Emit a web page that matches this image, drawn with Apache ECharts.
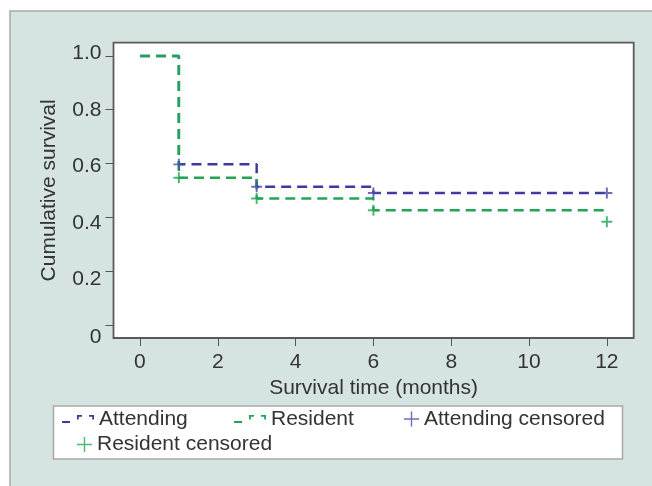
<!DOCTYPE html>
<html>
<head>
<meta charset="utf-8">
<script src="https://cdn.jsdelivr.net/npm/echarts@6/dist/echarts.min.js"></script>
<style>
  html, body { margin: 0; padding: 0; background: #ffffff; }
  #chart { width: 652px; height: 486px; }
</style>
</head>
<body>
<div id="chart"></div>
<script>
// ---- data ----
const timeTicks = [0, 2, 4, 6, 8, 10, 12];
const survivalTicks = [0, 0.2, 0.4, 0.6, 0.8, 1.0];
const survivalTickLabels = ['0', '0.2', '0.4', '0.6', '0.8', '1.0'];

const attendingTimes = [0, 1, 3, 6, 12];
const attendingSurvival = [1.0, 0.597, 0.514, 0.491, 0.491];
const residentTimes = [0, 1, 3, 6, 12];
const residentSurvival = [1.0, 0.547, 0.470, 0.427, 0.427];

const attendingCensoredTimes = [1, 3, 6, 12];
const attendingCensoredSurvival = [0.597, 0.514, 0.491, 0.491];
const residentCensoredTimes = [1, 3, 6, 12];
const residentCensoredSurvival = [0.547, 0.470, 0.427, 0.384];

const seriesNames = ['Attending', 'Resident', 'Attending censored', 'Resident censored'];
const xAxisTitle = 'Survival time (months)';
const yAxisTitle = 'Cumulative survival';

// ---- styling ----
const FONT = 'Liberation Sans, Arial, sans-serif';
const TXT = '#333333';
const BLUE = '#3c3c9e';
const GREEN = '#1fa653';
const BLUE_PLUS = '#4848ac';

const pairs = (xs, ys) => xs.map((x, i) => [x, ys[i]]);

const plusSymbol = 'path://M0,4.1h10v1.8h-10z M4.1,0h1.8v10h-1.8z';
const plusIcon = 'path://M0,6.8h15v1.4h-15z M6.8,0h1.4v15h-1.4z';
const stepIcon = 'path://M0,6h8v2h-8z M15,0h5v1.8h-3.2v2.7h-1.8z M27,0h5v4.5h-1.8v-2.7h-3.2z';

// label vertical offsets (px) as seen in the reference
const labelShift = [12, 8, 6, 3, 0, -3];
const rich = {};
labelShift.forEach((s, i) => {
  rich['r' + i] = {
    fontSize: 21, fontFamily: FONT, color: TXT,
    padding: s >= 0 ? [2 * s, 0, 0, 0] : [0, 0, -2 * s, 0]
  };
});

const chart = echarts.init(document.getElementById('chart'), null, { renderer: 'canvas' });

function legendBlock(name, icon, left, top, w, h) {
  return {
    data: [{ name: name, icon: icon }],
    left: left, top: top,
    itemWidth: w, itemHeight: h,
    padding: 0,
    selectedMode: false,
    itemStyle: { borderWidth: 0 },
    textStyle: { fontSize: 21, fontFamily: FONT, color: TXT }
  };
}

const option = {
  backgroundColor: '#ffffff',
  animation: false,
  graphic: [
    {
      type: 'rect', z: -10,
      shape: { x: 10, y: 11, width: 700, height: 520 },
      style: { fill: '#d6e4e1', stroke: '#a9a9a9', lineWidth: 1.5 }
    },
    {
      type: 'rect', z: -9,
      shape: { x: 53.5, y: 406, width: 569, height: 53 },
      style: { fill: '#ffffff', stroke: '#a9a9a9', lineWidth: 1.5 }
    }
  ],
  grid: {
    left: 113.5, top: 42.7, right: 18.3, bottom: 148,
    show: true, backgroundColor: '#ffffff',
    borderColor: '#5a5a5a', borderWidth: 1.8
  },
  xAxis: {
    type: 'value',
    min: -0.68, max: 12.69,
    splitLine: { show: false },
    axisLine: { show: false, onZero: false },
    axisTick: { show: true, length: 8, lineStyle: { color: '#555', width: 1 }, customValues: timeTicks },
    axisLabel: {
      customValues: timeTicks, margin: 14,
      fontSize: 21, fontFamily: FONT, color: TXT
    },
    name: xAxisTitle, nameLocation: 'middle', nameGap: 37,
    nameTextStyle: { fontSize: 21, fontFamily: FONT, color: TXT }
  },
  yAxis: {
    type: 'value',
    min: -0.048, max: 1.049,
    splitLine: { show: false },
    axisLine: { show: false, onZero: false },
    axisTick: { show: true, length: 8, lineStyle: { color: '#555', width: 1 }, customValues: survivalTicks },
    axisLabel: {
      customValues: survivalTicks, margin: 12,
      fontSize: 21, fontFamily: FONT, color: TXT,
      formatter: function (v) {
        let k = 0, best = 1e9;
        survivalTicks.forEach((t, i) => { const d = Math.abs(t - v); if (d < best) { best = d; k = i; } });
        return '{r' + k + '|' + survivalTickLabels[k] + '}';
      },
      rich: rich
    },
    name: yAxisTitle, nameLocation: 'middle', nameGap: 54,
    nameTextStyle: { fontSize: 21, fontFamily: FONT, color: TXT }
  },
  legend: [
    legendBlock(seriesNames[0], stepIcon, 62, 408.5, 32, 8),
    legendBlock(seriesNames[1], stepIcon, 234, 408.5, 32, 8),
    legendBlock(seriesNames[2], plusIcon, 404, 408.5, 15, 15),
    legendBlock(seriesNames[3], plusIcon, 77, 434, 15, 15)
  ],
  series: [
    {
      name: seriesNames[0], type: 'line', step: 'end',
      data: pairs(attendingTimes, attendingSurvival),
      symbol: 'none', showSymbol: false,
      itemStyle: { color: BLUE },
      lineStyle: { color: BLUE, width: 2.5, type: [10, 6] },
      z: 2
    },
    {
      name: seriesNames[1], type: 'line', step: 'end',
      data: pairs(residentTimes, residentSurvival),
      symbol: 'none', showSymbol: false,
      itemStyle: { color: GREEN },
      lineStyle: { color: GREEN, width: 2.5, type: [10, 6] },
      z: 3
    },
    {
      name: seriesNames[2], type: 'scatter',
      data: pairs(attendingCensoredTimes, attendingCensoredSurvival),
      symbol: plusSymbol, symbolSize: 11,
      itemStyle: { color: BLUE_PLUS },
      z: 4
    },
    {
      name: seriesNames[3], type: 'scatter',
      data: pairs(residentCensoredTimes, residentCensoredSurvival),
      symbol: plusSymbol, symbolSize: 11,
      itemStyle: { color: GREEN },
      z: 5
    }
  ]
};

chart.setOption(option);
</script>
</body>
</html>
